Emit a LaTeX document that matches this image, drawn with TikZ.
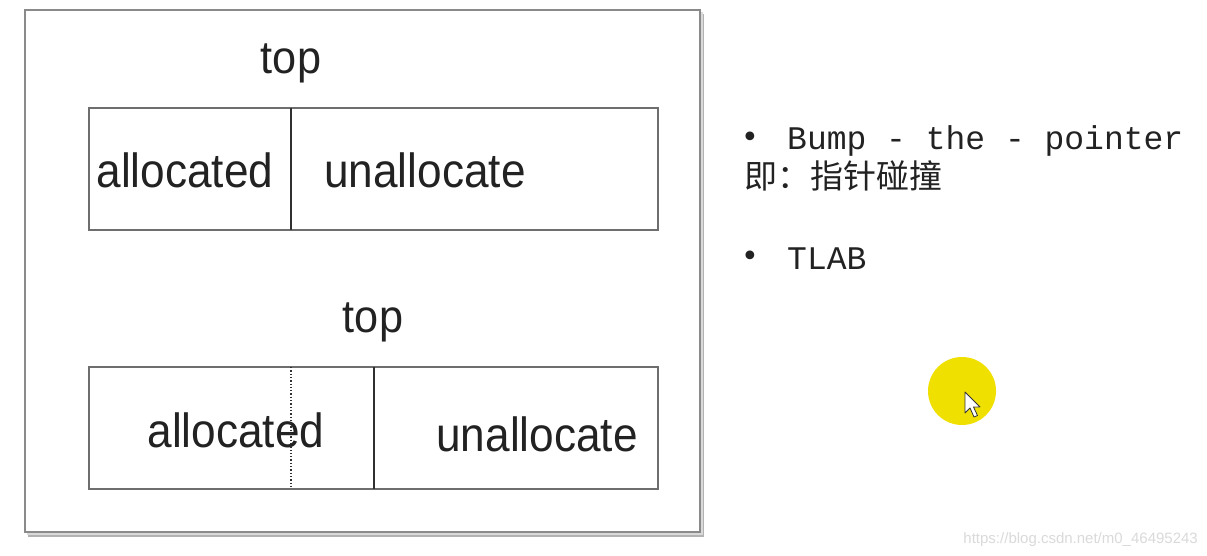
\documentclass[tikz,border=0pt]{standalone}
\usepackage{fontspec}
\setmainfont{Liberation Sans}
\newfontfamily\diagfont[FakeStretch=0.92]{Liberation Sans}
\newfontfamily\topfont[FakeStretch=0.94]{Liberation Sans}
\newfontfamily\monofont{Liberation Mono}
\newfontfamily\cjkfont{Noto Sans CJK SC}
\newfontfamily\symfont{DejaVu Sans}
\definecolor{framegray}{HTML}{8A8A8A}
\definecolor{boxgray}{HTML}{6E6E6E}
\definecolor{divgray}{HTML}{303030}
\definecolor{textdark}{HTML}{222222}
\definecolor{hiyellow}{HTML}{F0E000}
\definecolor{wmgray}{HTML}{DADADA}
\tikzset{
  lbl/.style={font=\diagfont\fontsize{48}{52}\selectfont, text=textdark, inner sep=0pt},
  toplbl/.style={font=\topfont\fontsize{46}{50}\selectfont, text=textdark, inner sep=0pt},
  mem/.style={draw=boxgray, line width=1.8pt},
  divider/.style={draw=divgray, line width=1.6pt},
  dotdiv/.style={draw=divgray, line width=1.3pt, dotted},
  bullettext/.style={font=\monofont\fontsize{33}{36}\selectfont, text=textdark, anchor=base west, inner sep=0pt},
  bulletdot/.style={font=\symfont\fontsize{30}{32}\selectfont, text=textdark, inner sep=0pt},
}
\begin{document}
\begin{tikzpicture}[x=1pt,y=-1pt]
\useasboundingbox (0,0) rectangle (1207,556);
\fill[white] (0,0) rectangle (1207,556);
% outer frame with shadow
\fill[black!30] (28,14) rectangle (704,537);
\fill[black!15] (27,12) rectangle (703,535);
\draw[framegray, line width=1.5pt, fill=white] (25,10) rectangle (700,532);
% top memory
\node[toplbl] (top1) at (291,63) {top};
\draw[mem] (89,108) rectangle (658,230);
\coordinate (d1t) at (291,108);
\coordinate (d1b) at (291,230);
\draw[divider] (d1t) -- (d1b);
\node[lbl] (alloc1) at (185,170) {allocated};
\node[lbl] (unalloc1) at (425,170) {unallocate};
% bottom memory
\node[toplbl] (top2) at (373,322) {top};
\draw[mem] (89,367) rectangle (658,489);
\node[lbl] (alloc2) at (236,430) {allocated};
\node[lbl] (unalloc2) at (537,434) {unallocate};
\coordinate (d2t) at (291,367);
\coordinate (d2b) at (291,489);
\draw[dotdiv] (d2t) -- (d2b);
\coordinate (d3t) at (374,367);
\coordinate (d3b) at (374,489);
\draw[divider] (d3t) -- (d3b);
% right bullets
\node[bulletdot] (b1) at (750,140) {•};
\node[bullettext] (t1) at (787,150) {Bump - the - pointer};
\node[font=\cjkfont\fontsize{33}{36}\selectfont, text=textdark, anchor=base west, inner sep=0pt] (t2) at (744,189) {即：指针碰撞};
\node[bulletdot] (b2) at (750,259) {•};
\node[bullettext] (t3) at (787,269) {TLAB};
% cursor highlight
\fill[hiyellow] (962,391) circle (34);
\draw[black!80, fill=white, line width=0.8pt, line join=round]
  (965,392) -- (965,413) -- (970,408) -- (974,417) -- (977.5,415.5) -- (973.5,407) -- (980,407) -- cycle;
% watermark
\node[font=\fontsize{15}{17}\selectfont, text=wmgray, anchor=base east, inner sep=0pt] (wm) at (1198,543) {https://blog.csdn.net/m0\_46495243};
\end{tikzpicture}
\end{document}
